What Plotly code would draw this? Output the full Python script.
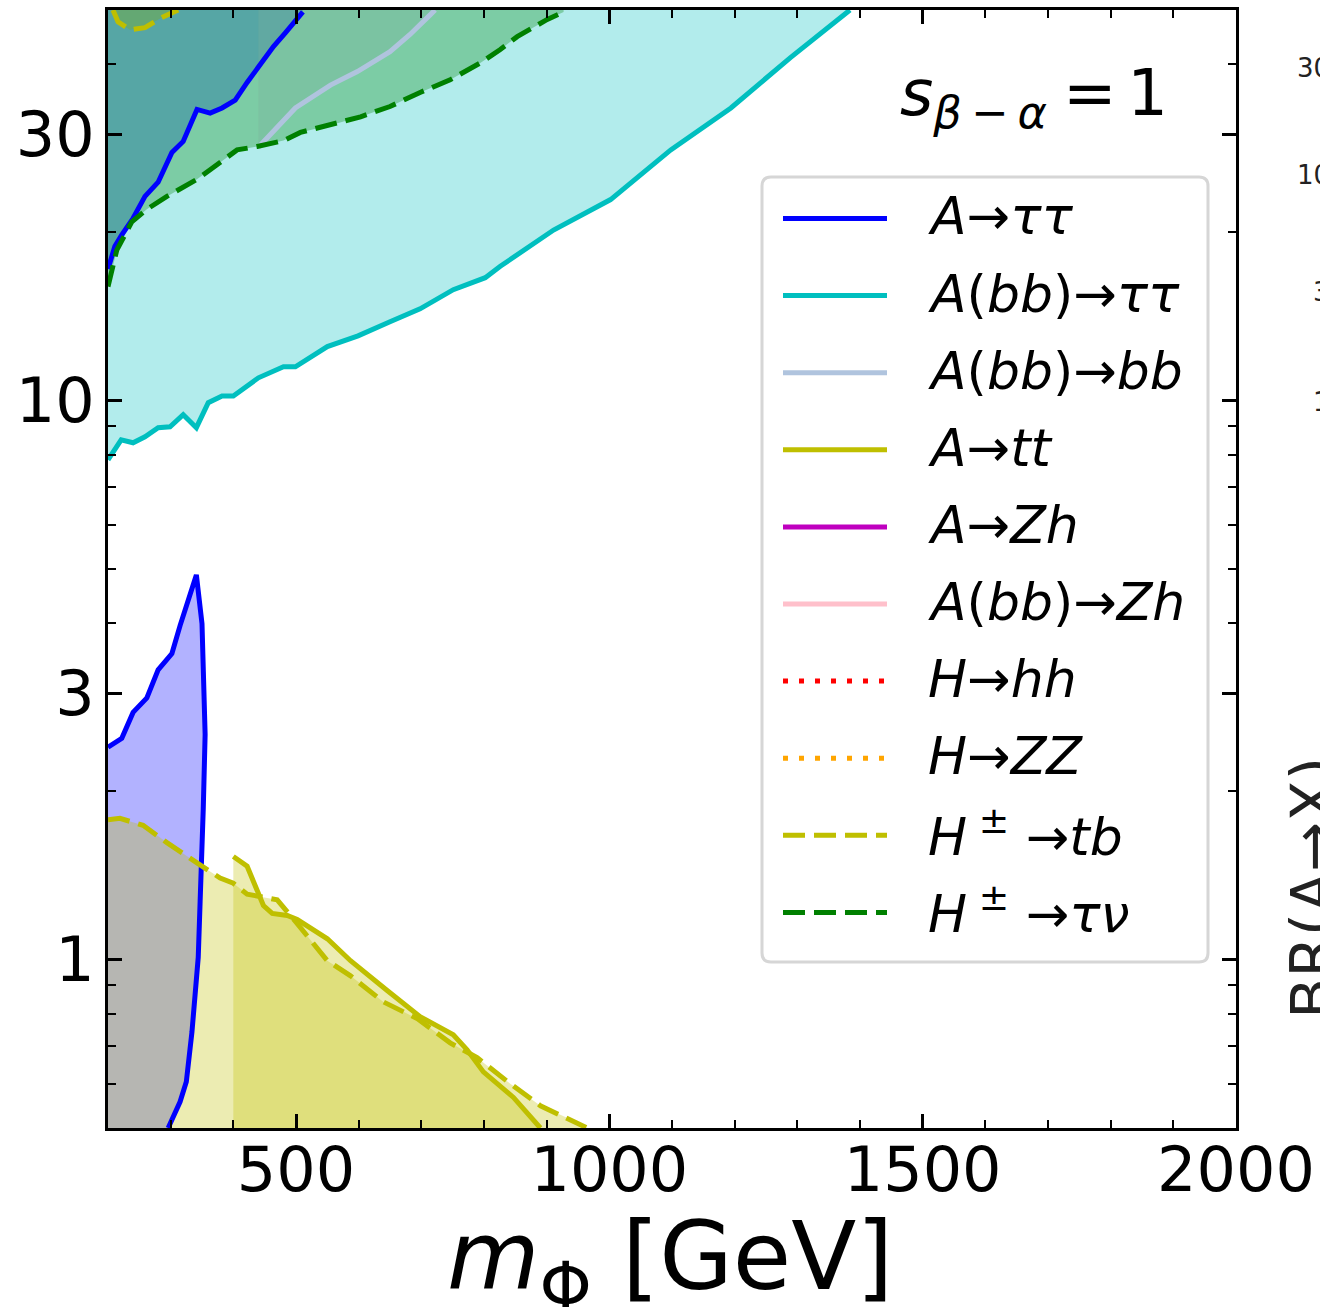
import plotly.graph_objects as go

# ---------------- data: m_Phi [GeV] vs tan(beta) boundaries ----------------
# A -> tau tau (high tan beta branch, excluded above)
A_tautau_hi_m = [200, 211, 222, 240, 259, 280, 302, 320, 342, 363, 382, 403, 422, 448, 464, 483, 502, 511]
A_tautau_hi_tb = [17.2, 18.9, 19.8, 21.2, 23.2, 24.6, 27.8, 29.1, 33.2, 32.7, 33.4, 34.5, 37.1, 40.7, 43.0, 45.5, 48.1, 49.6]
# A -> tau tau (low tan beta branch, excluded to the left)
A_tautau_lo_m = [200, 222, 240, 262, 280, 302, 315, 341, 350, 353, 355, 352, 350, 347, 344, 339, 334, 325, 315, 296]
A_tautau_lo_tb = [2.40, 2.49, 2.77, 2.94, 3.30, 3.53, 3.96, 4.88, 3.99, 3.17, 2.53, 1.86, 1.48, 1.27, 1.01, 0.866, 0.743, 0.605, 0.557, 0.50]
# A(bb) -> tau tau (excluded above)
A_bb_tautau_m = [200, 221, 240, 259, 280, 299, 320, 341, 360, 382, 400, 419, 440, 480, 499, 550, 599, 650, 698, 751, 802, 826, 911, 1002, 1098, 1194, 1289, 1384]
A_bb_tautau_tb = [7.84, 8.51, 8.41, 8.62, 8.95, 8.98, 9.44, 8.95, 9.92, 10.2, 10.2, 10.55, 10.99, 11.5, 11.5, 12.5, 13.06, 13.84, 14.6, 15.8, 16.6, 17.4, 20.2, 22.9, 28.1, 33.4, 41.1, 50.0]
# A(bb) -> bb (excluded above)
A_bb_bb_m = [440, 464, 499, 555, 598, 650, 682, 714, 722]
A_bb_bb_tb = [28.4, 30.3, 33.4, 36.7, 38.8, 42.1, 45.2, 49.0, 50.0]
# A -> tt (excluded below)
A_tt_m = [400, 422, 448, 462, 486, 502, 550, 587, 646, 698, 751, 773, 799, 847, 890]
A_tt_tb = [1.53, 1.47, 1.25, 1.21, 1.20, 1.18, 1.09, 0.996, 0.880, 0.791, 0.734, 0.690, 0.630, 0.567, 0.50]
# H+- -> tb (low branch, excluded below)
Hpm_tb_lo_m = [200, 219, 256, 294, 342, 379, 400, 422, 454, 470, 502, 550, 587, 639, 694, 746, 789, 842, 890, 943, 965]
Hpm_tb_lo_tb = [1.78, 1.79, 1.74, 1.62, 1.49, 1.40, 1.37, 1.31, 1.29, 1.28, 1.16, 0.996, 0.936, 0.841, 0.784, 0.710, 0.668, 0.600, 0.548, 0.515, 0.50]
# H+- -> tb (high branch, excluded above)
Hpm_tb_hi_m = [208, 216, 235, 259, 283, 312]
Hpm_tb_hi_tb = [50.0, 47.6, 46.1, 46.5, 48.3, 50.0]
# H+- -> tau nu (excluded above)
Hpm_taunu_m = [200, 214, 238, 262, 294, 342, 363, 406, 438, 480, 507, 559, 603, 650, 698, 746, 794, 826, 853, 901, 927]
Hpm_taunu_tb = [16.0, 18.6, 20.9, 22.0, 23.2, 24.9, 25.9, 28.1, 28.5, 29.2, 30.2, 31.2, 32.2, 33.6, 35.6, 37.5, 40.2, 42.5, 44.8, 48.1, 49.6]

x_ticks = [500, 1000, 1500, 2000]
x_minor = [300, 400, 600, 700, 800, 900, 1100, 1200, 1300, 1400, 1600, 1700, 1800, 1900]
y_ticks = [1, 3, 10, 30]
y_ticklabels = ["1", "3", "10", "30"]
y_minor = [0.6, 0.7, 0.8, 0.9, 2, 4, 5, 6, 7, 8, 9, 20, 40]

legend_labels = [
    "<i>A</i>→<i>ττ</i>",
    "<i>A</i>(<i>bb</i>)→<i>ττ</i>",
    "<i>A</i>(<i>bb</i>)→<i>bb</i>",
    "<i>A</i>→<i>tt</i>",
    "<i>A</i>→<i>Zh</i>",
    "<i>A</i>(<i>bb</i>)→<i>Zh</i>",
    "<i>H</i>→<i>hh</i>",
    "<i>H</i>→<i>ZZ</i>",
    "<i>H</i><sup> ±</sup> →<i>tb</i>",
    "<i>H</i><sup> ±</sup> →<i>τν</i>",
]
legend_colors = ["#0000ff", "#00bfbf", "#b0c4de", "#bfbf00", "#bf00bf", "#ffc0cb",
                 "#ff0000", "#ffa500", "#bfbf00", "#008000"]
legend_dash = ["solid"] * 6 + ["5px,11px", "5px,11px", "22px,9px", "22px,9px"]

# ---------------- geometry ----------------
W, H = 1320, 1307
ML, MR, MT, MB = 108, 84, 10, 179
PW = W - ML - MR
PH = H - MT - MB
Y_TOP, Y_BOT = 100.0, 0.3
FONT = "DejaVu Sans"


def pxx(x):
    return (x - ML) / PW


def pxy(y):
    return (H - MB - y) / PH


def close_top(m, t):
    return m + [m[-1], m[0]], t + [Y_TOP, Y_TOP]


def close_bot(m, t):
    return m + [m[-1], m[0]], t + [Y_BOT, Y_BOT]


def rgba(hexc, a):
    h = hexc.lstrip("#")
    r, g, b = int(h[0:2], 16), int(h[2:4], 16), int(h[4:6], 16)
    return f"rgba({r},{g},{b},{a})"


fig = go.Figure()

fills = [
    (close_top(A_tautau_hi_m, A_tautau_hi_tb), "#0000ff"),
    (close_bot(A_tautau_lo_m, A_tautau_lo_tb), "#0000ff"),
    (close_top(A_bb_tautau_m, A_bb_tautau_tb), "#00bfbf"),
    (close_top(A_bb_bb_m, A_bb_bb_tb), "#b0c4de"),
    (close_bot(A_tt_m, A_tt_tb), "#bfbf00"),
    (close_bot(Hpm_tb_lo_m, Hpm_tb_lo_tb), "#bfbf00"),
    (close_top(Hpm_tb_hi_m, Hpm_tb_hi_tb), "#bfbf00"),
    (close_top(Hpm_taunu_m, Hpm_taunu_tb), "#008000"),
]
for (xs, ys), c in fills:
    fig.add_trace(go.Scatter(x=xs, y=ys, mode="lines", fill="toself",
                             fillcolor=rgba(c, 0.3), line=dict(width=0),
                             hoverinfo="skip", showlegend=False))

lines = [
    (A_tautau_hi_m, A_tautau_hi_tb, "#0000ff", "solid"),
    (A_tautau_lo_m, A_tautau_lo_tb, "#0000ff", "solid"),
    (A_bb_tautau_m, A_bb_tautau_tb, "#00bfbf", "solid"),
    (A_bb_bb_m, A_bb_bb_tb, "#b0c4de", "solid"),
    (A_tt_m, A_tt_tb, "#bfbf00", "solid"),
    (Hpm_tb_lo_m, Hpm_tb_lo_tb, "#bfbf00", "22px,9px"),
    (Hpm_tb_hi_m, Hpm_tb_hi_tb, "#bfbf00", "22px,9px"),
    (Hpm_taunu_m, Hpm_taunu_tb, "#008000", "22px,9px"),
]
for xs, ys, c, d in lines:
    fig.add_trace(go.Scatter(x=xs, y=ys, mode="lines",
                             line=dict(color=c, width=5, dash=d),
                             hoverinfo="skip", showlegend=False))

shapes = []
annotations = []

# legend box (rounded)
bx0, by0, bx1, by1, r = 762, 177, 1208, 962, 9
pts = (f"M {pxx(bx0 + r)},{pxy(by0)} L {pxx(bx1 - r)},{pxy(by0)} "
       f"Q {pxx(bx1)},{pxy(by0)} {pxx(bx1)},{pxy(by0 + r)} "
       f"L {pxx(bx1)},{pxy(by1 - r)} Q {pxx(bx1)},{pxy(by1)} {pxx(bx1 - r)},{pxy(by1)} "
       f"L {pxx(bx0 + r)},{pxy(by1)} Q {pxx(bx0)},{pxy(by1)} {pxx(bx0)},{pxy(by1 - r)} "
       f"L {pxx(bx0)},{pxy(by0 + r)} Q {pxx(bx0)},{pxy(by0)} {pxx(bx0 + r)},{pxy(by0)} Z")
shapes.append(dict(type="path", path=pts, xref="paper", yref="paper",
                   line=dict(color="#d6d6d6", width=3), fillcolor="white", layer="above"))

row0, drow = 218.5, 77.1
for i, (lab, c, d) in enumerate(zip(legend_labels, legend_colors, legend_dash)):
    yy = row0 + i * drow
    shapes.append(dict(type="line", xref="paper", yref="paper",
                       x0=pxx(783), x1=pxx(887), y0=pxy(yy), y1=pxy(yy),
                       line=dict(color=c, width=5, dash=d), layer="above"))
    annotations.append(dict(text=lab, x=pxx(926), y=pxy(yy - 2), xref="paper", yref="paper",
                            xanchor="left", yanchor="middle", showarrow=False,
                            font=dict(family=FONT, size=52, color="black")))

# s_{beta-alpha} = 1
annotations.append(dict(text="<i>s</i><sub><i>β</i>\u2009−\u2009<i>α</i></sub>\u2005=\u20061",
                        x=pxx(1170), y=pxy(98), xref="paper", yref="paper",
                        xanchor="right", yanchor="middle", showarrow=False,
                        font=dict(family=FONT, size=64, color="black")))

# x-axis title
annotations.append(dict(text="<i>m</i><sub>Φ</sub> [GeV]",
                        x=pxx(670), y=pxy(1263), xref="paper", yref="paper",
                        xanchor="center", yanchor="middle", showarrow=False,
                        font=dict(family=FONT, size=95, color="black")))

# neighbouring panel fragments at the right edge (clipped by the page)
for txt, yy in [("30", 68), ("10", 175), ("3", 292), ("1", 402)]:
    annotations.append(dict(text=txt, x=pxx(1332), y=pxy(yy), xref="paper", yref="paper",
                            xanchor="right", yanchor="middle", showarrow=False,
                            font=dict(family=FONT, size=26, color="#222222")))
annotations.append(dict(text="BR(A→X)", x=pxx(1313), y=pxy(888),
                        xref="paper", yref="paper", xanchor="center", yanchor="middle",
                        textangle=-90, showarrow=False,
                        font=dict(family=FONT, size=60, color="#222222")))

fig.update_layout(
    width=W, height=H,
    margin=dict(l=ML, r=MR, t=MT, b=MB, pad=0, autoexpand=False),
    paper_bgcolor="white", plot_bgcolor="white",
    showlegend=False, hovermode=False,
    shapes=shapes, annotations=annotations,
    font=dict(family=FONT, color="black"),
)
fig.update_xaxes(
    range=[200, 2000], showgrid=False, zeroline=False, automargin=False,
    showline=True, linecolor="black", linewidth=3, mirror="ticks",
    tickmode="array", tickvals=x_ticks, ticks="inside", ticklen=14, tickwidth=2.5,
    tickcolor="black", tickfont=dict(family=FONT, size=62, color="black"),
    ticklabelstandoff=-14,
    minor=dict(tickmode="array", tickvals=x_minor, ticks="inside", ticklen=8,
               tickwidth=1.8, tickcolor="black", showgrid=False),
)
fig.update_yaxes(
    type="log", range=[-0.30103, 1.69897], showgrid=False, zeroline=False, automargin=False,
    showline=True, linecolor="black", linewidth=3, mirror="ticks",
    tickmode="array", tickvals=y_ticks, ticktext=y_ticklabels,
    ticks="inside", ticklen=14, tickwidth=2.5, tickcolor="black",
    tickfont=dict(family=FONT, size=62, color="black"),
    ticklabelstandoff=-2,
    minor=dict(tickmode="array", tickvals=y_minor, ticks="inside", ticklen=8,
               tickwidth=1.8, tickcolor="black", showgrid=False),
)

fig.write_html("out.html")
